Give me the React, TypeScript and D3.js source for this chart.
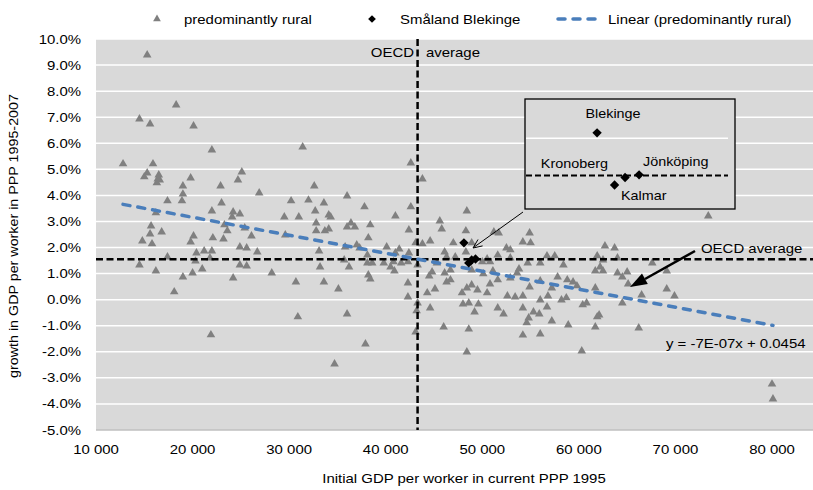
import React from 'react';
import * as d3 from 'd3';

// predominantly rural regions: initial GDP per worker (PPP 1995) and growth 1995-2007 (%)
const ruralX = [
  15300, 18300, 14500, 15600, 20100, 22000, 31400,
  12800, 15900, 15300, 15000, 16500, 16400, 16600, 16300, 19800, 25100, 24700, 26900, 19000, 19000,
  18900, 22900, 23000, 17400, 22000, 16200, 24200, 24900, 24100, 23300, 23600, 25400, 26100, 15700,
  15600, 16800, 14800, 15800, 20100, 19800, 22100, 23200, 24900, 25600, 26700, 20400, 21200, 22000,
  20300, 21800, 17400, 14500, 24900, 25600, 16200, 20000, 21000, 19000, 24200, 18100, 21900,
  42600, 43800, 32600, 30200, 32000, 33600, 36000, 37800, 42600, 32700, 29500, 31000, 34100, 34300,
  41000, 32800, 45600, 36400, 36000, 36800, 38400, 32800, 33700, 34100, 42400, 45800, 29600, 38200,
  43100, 43800, 44600, 33100, 35800, 37000, 37300, 40100, 41400, 42400, 41000, 38100, 46100, 46300,
  35700, 38100, 38600, 39800, 40800, 41600, 42300, 43300, 45300, 40500, 40900, 36200, 33200, 28200,
  38200, 38400, 44800, 44500, 46300, 30700, 33600, 42300, 35100, 44300, 45100, 42300,
  43300, 43200, 44600, 30900, 36000, 43100, 37900, 34700,
  48400, 48300, 47000, 48900, 51200, 51700, 54900, 54200, 55000, 52500, 52900, 47200, 48300, 50500,
  50000, 50800, 51600, 52900, 54700, 56700, 57500, 56000, 58400, 62700, 63700, 61900, 62500, 64000,
  62200, 61700, 62500, 64000, 64500, 65000, 65100, 46700, 46100, 48900, 50100, 51100, 53800, 53600,
  52900, 51600, 50800, 48900, 48400, 56000, 57800, 58800, 57200, 59400, 59800, 54900, 61700, 46700,
  47900, 49500, 50500, 52600, 53400, 54200, 56000, 56800, 58200, 58700, 48000, 48600, 49600, 49200,
  51600, 52200, 54200, 55300, 55900, 56700, 54800, 54600, 57200, 60400, 60800, 62100, 61900, 64500,
  46000, 48600, 54200, 56000, 58900, 61700, 66200, 48400, 60300,
  73400, 67600, 69100, 66500, 69100, 69900, 80000, 80100,
];
const ruralY = [
  9.39, 7.47, 6.93, 6.74, 6.66, 5.74, 5.86,
  5.21, 5.21, 4.86, 4.71, 4.78, 4.63, 4.59, 4.48, 4.67, 4.90, 4.59, 4.09, 4.36, 4.05,
  3.79, 4.36, 3.71, 3.79, 3.40, 3.33, 3.36, 3.29, 3.17, 2.87, 2.64, 2.75, 2.44, 2.83,
  2.52, 2.60, 2.25, 2.14, 2.44, 2.21, 2.37, 2.33, 2.02, 1.98, 1.83, 1.79, 1.87, 1.87,
  1.48, 1.60, 1.64, 1.33, 1.33, 1.29, 1.10, 1.02, 1.18, 0.87, 0.83, 0.30, -1.35,
  5.24, 4.63, 4.36, 3.79, 3.82, 3.71, 3.98, 3.56, 3.56, 3.40, 3.17, 3.17, 3.25, 3.17,
  3.21, 2.94, 3.02, 2.94, 2.79, 2.79, 2.87, 2.64, 2.64, 2.71, 2.67, 2.71, 2.48, 2.37,
  2.18, 2.14, 2.25, 1.87, 2.02, 2.10, 1.98, 2.02, 1.94, 1.79, 1.79, 1.71, 1.83, 1.64,
  1.52, 1.41, 1.41, 1.41, 1.45, 1.41, 1.45, 1.33, 1.41, 1.25, 1.10, 1.25, 1.25, 1.02,
  0.95, 0.79, 1.06, 0.91, 0.68, 0.68, 0.68, 0.64, 0.41, 0.26, 0.41, 0.10,
  -0.13, -0.43, -0.32, -0.66, -0.55, -1.24, -1.70, -2.47,
  3.40, 2.64, 2.18, 2.18, 2.60, 2.56, 2.56, 2.21, 2.18, 1.98, 1.91, 1.64, 1.83, 1.56,
  1.45, 1.45, 1.71, 1.60, 1.41, 1.68, 1.68, 1.41, 1.33, 2.06, 1.98, 1.68, 1.52, 1.60,
  1.25, 1.10, 1.10, 1.02, 0.87, 1.06, 0.60, 1.14, 1.02, 1.14, 0.99, 1.10, 1.18, 1.02,
  0.83, 0.76, 0.60, 0.56, 0.45, 0.72, 0.87, 0.76, 0.45, 0.68, 0.53, 0.49, 0.45, 0.76,
  0.26, 0.37, 0.26, 0.14, 0.10, 0.14, -0.01, 0.14, -0.01, 0.07, -0.17, -0.13, -0.17, -0.47,
  -0.32, -0.55, -0.32, -0.47, -0.55, -0.28, -0.70, -0.89, -0.82, -0.20, -0.13, -0.59, -0.66, -0.13,
  -1.05, -1.13, -1.36, -1.32, -0.97, -1.05, -1.09, -2.01, -1.97,
  3.21, 1.41, 1.10, 0.18, 0.41, 0.14, -3.24, -3.81,
];

// Småland Blekinge counties
const smalandNames = ['Blekinge', 'Kalmar', 'Kronoberg', 'Jönköping'];
const smalandX = [48100, 48600, 48900, 49300];
const smalandY = [2.18, 1.41, 1.52, 1.56];

const xTicks = [10000, 20000, 30000, 40000, 50000, 60000, 70000, 80000];
const yTicks = [-5, -4, -3, -2, -1, 0, 1, 2, 3, 4, 5, 6, 7, 8, 9, 10];

const oecdX = 43300;
const oecdY = 1.55;
const trendSlope = -6.9e-7;
const trendIntercept = 0.0454;
const insetGrid = [2.1];

const W = 813;
const H = 490;
const FONT = '"Liberation Sans", Arial, sans-serif';
const SX = 1.15;
const GREY = '#808080';
const BLUE = '#4a7ebb';

const Txt: React.FC<{ x: number; y: number; anchor?: string; size?: number; children: React.ReactNode }> = ({
  x, y, anchor = 'start', size = 13, children,
}) => (
  <text transform={`translate(${x},${y}) scale(${SX},1)`} textAnchor={anchor as any} fontSize={size} fill="#000">
    {children}
  </text>
);

const App: React.FC = () => {
  const xScale = d3.scaleLinear().domain([10000, 80000]).range([96, 772]);
  const yScale = d3.scaleLinear().domain([-5, 10]).range([430, 39]);
  const left = 96;
  const right = W;
  const top = yScale(10);
  const bottom = yScale(-5);

  const tri = d3.symbol(d3.symbolTriangle, 32)() || '';
  const triLegend = d3.symbol(d3.symbolTriangle, 26)() || '';
  const dia = d3.symbol(d3.symbolSquare, 44)() || '';
  const diaLegend = d3.symbol(d3.symbolSquare, 30)() || '';

  const fmtX = (v: number) => d3.format(',')(v).replace(',', ' ');
  const fmtY = (v: number) => `${v.toFixed(1)}%`;

  const [xmin, xmax] = d3.extent(ruralX) as [number, number];
  const trendLine = d3.line<number>()
    .x(d => xScale(d))
    .y(d => yScale((trendIntercept + trendSlope * d) * 100));

  // inset (zoom on Småland Blekinge)
  const box = { x: 525, y: 99, w: 210, h: 110 };
  const insetX = d3.scaleLinear().domain([46070, 51840]).range([526, 728]);
  const insetY = d3.scaleLinear().domain([1.07, 2.65]).range([208, 101]);
  const labelPos: Record<string, [number, number, string]> = {
    Blekinge: [613, 118, 'middle'],
    Kalmar: [621, 200, 'start'],
    Kronoberg: [608, 168, 'end'],
    'Jönköping': [643, 166, 'start'],
  };

  return (
    <svg width={W} height={H} style={{ position: 'absolute', left: 0, top: 0, background: '#fff' }} fontFamily={FONT}>
      <rect x={0} y={0} width={W} height={H} fill="#fff" />
      {/* plot area */}
      <rect x={left} y={top} width={right - left} height={bottom - top} fill="#d9d9d9" />
      {yTicks.map(t => (
        <line key={t} x1={left} x2={right} y1={yScale(t)} y2={yScale(t)} stroke={t === -5 ? '#bfbfbf' : '#fff'} strokeWidth={1.5} />
      ))}
      {yTicks.map(t => (
        <Txt key={t} x={81} y={yScale(t) + 4.5} anchor="end">{fmtY(t)}</Txt>
      ))}
      {xTicks.map(t => (
        <Txt key={t} x={xScale(t)} y={454} anchor="middle">{fmtX(t)}</Txt>
      ))}

      {/* rural points */}
      {ruralX.map((v, i) => (
        <path key={i} d={tri} transform={`translate(${xScale(v)},${yScale(ruralY[i])})`} fill={GREY} />
      ))}

      {/* OECD averages */}
      <line x1={xScale(oecdX)} x2={xScale(oecdX)} y1={top} y2={bottom} stroke="#000" strokeWidth={2.5} strokeDasharray="7,3.5" />
      <line x1={left} x2={right} y1={yScale(oecdY)} y2={yScale(oecdY)} stroke="#000" strokeWidth={2.5} strokeDasharray="7,3.5" />

      {/* trendline */}
      <path d={trendLine([xmin, xmax]) || ''} fill="none" stroke={BLUE} strokeWidth={3.5} strokeDasharray="7,8" strokeLinecap="round" />

      {/* Småland Blekinge points */}
      {smalandX.map((v, i) => (
        <path key={i} d={dia} transform={`translate(${xScale(v)},${yScale(smalandY[i])}) rotate(45)`} fill="#000" />
      ))}

      <Txt x={414} y={57} anchor="end">OECD</Txt>
      <Txt x={426} y={57}>average</Txt>

      {/* inset */}
      <rect x={box.x} y={box.y} width={box.w} height={box.h} fill="#d9d9d9" stroke="#000" strokeWidth={1.3} />
      {insetGrid.map(g => (
        <line key={g} x1={526} x2={728} y1={insetY(g)} y2={insetY(g)} stroke="#fff" strokeWidth={1.5} />
      ))}
      <line x1={526} x2={728} y1={insetY(oecdY)} y2={insetY(oecdY)} stroke="#000" strokeWidth={2} strokeDasharray="6,3" />
      {smalandX.map((v, i) => (
        <path key={i} d={dia} transform={`translate(${insetX(v)},${insetY(smalandY[i])}) rotate(45)`} fill="#000" />
      ))}
      {smalandNames.map(n => (
        <Txt key={n} x={labelPos[n][0]} y={labelPos[n][1]} anchor={labelPos[n][2]} size={12.5}>{n}</Txt>
      ))}

      {/* arrow inset -> cluster */}
      <line x1={523} y1={212} x2={473.5} y2={247.5} stroke="#000" strokeWidth={1} />
      <polyline points="478,239.5 473,248 482.6,245.9" fill="none" stroke="#000" strokeWidth={1} />

      {/* OECD average arrow */}
      <line x1={695} y1={251} x2={645} y2={279} stroke="#000" strokeWidth={2.5} />
      <polygon points="630,287 647.8,284 642,273.5" fill="#000" />
      <Txt x={701} y={253}>OECD average</Txt>

      <Txt x={666} y={348}>y = -7E-07x + 0.0454</Txt>

      {/* legend */}
      <path d={triLegend} transform="translate(157,19)" fill={GREY} />
      <Txt x={184} y={24}>predominantly rural</Txt>
      <path d={diaLegend} transform="translate(372,19) rotate(45)" fill="#000" />
      <Txt x={400} y={24}>Småland Blekinge</Txt>
      <line x1={558} x2={598} y1={19} y2={19} stroke={BLUE} strokeWidth={3.5} strokeDasharray="7,8" strokeLinecap="round" />
      <Txt x={608} y={24}>Linear (predominantly rural)</Txt>

      {/* axis titles */}
      <Txt x={464} y={483} anchor="middle">Initial GDP per worker in current PPP 1995</Txt>
      <text transform="translate(18,236) rotate(-90) scale(1.1,1)" textAnchor="middle" fontSize={13} fill="#000">
        growth in GDP per worker  in PPP 1995-2007
      </text>
    </svg>
  );
};

export default App;
